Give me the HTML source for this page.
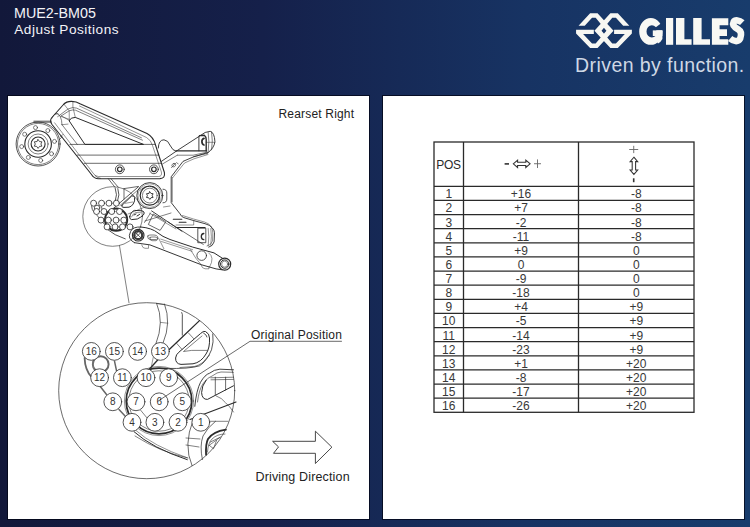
<!DOCTYPE html>
<html><head><meta charset="utf-8">
<style>
html,body{margin:0;padding:0;}
body{width:750px;height:527px;overflow:hidden;position:relative;font-family:"Liberation Sans",sans-serif;
background:linear-gradient(90deg,#12183a 0%,#15204a 35%,#173363 70%,#183c6c 100%);}
.t{position:absolute;white-space:pre;line-height:1;}
.hdr{color:#f4f4f8;font-size:14px;}
.panel{position:absolute;top:96px;width:361px;height:423px;background:#fff;box-shadow:0 0 0 1px rgba(2,4,20,0.75);}
#lp{left:8px;}
#rp{left:383px;}
.dt{font-size:12px;color:#222;}
table{position:absolute;border-collapse:collapse;}
svg{position:absolute;left:0;top:0;}
.tc{position:absolute;height:14.125px;line-height:16px;text-align:center;font-size:12px;color:#383838;}

</style></head><body>
<div class="t hdr" style="left:14px;top:5.5px;font-size:14.3px">MUE2-BM05</div>
<div class="t hdr" style="left:14.3px;top:23.3px;font-size:13.6px;letter-spacing:0.5px">Adjust Positions</div>

<!--LOGO--><svg width="62" height="42" viewBox="0 0 750 508" style="position:absolute;left:574px;top:10px"><polygon points="55,190 195,40 285,40 478,250 285,460 195,460 25,285 25,240 240,240 240,290 110,290 218,405 262,405 392,250 262,95 218,95 130,190" fill="#f7f7f2"/><polygon points="670,190 530,40 440,40 247,250 440,460 530,460 700,285 700,240 485,240 485,290 615,290 507,405 463,405 333,250 463,95 507,95 595,190" fill="#f7f7f2"/></svg><!--/LOGO-->
<!--GIL--><svg width="750" height="60" style="position:absolute;left:0;top:0">
<defs><mask id="gm" maskUnits="userSpaceOnUse" x="630" y="10" width="40" height="40"><rect x="630" y="10" width="40" height="40" fill="#fff"/><polygon points="651.5,30.4 667.5,18.6 667.5,30.4" fill="#000"/></mask></defs>
<g fill="#f8f8f4">
<path mask="url(#gm)" fill-rule="evenodd" d="M639.2,31.4 A11.6,13.4 0 1,0 662.4,31.4 A11.6,13.4 0 1,0 639.2,31.4 Z M646.5,31.4 A5.4,6.2 0 1,0 657.3,31.4 A5.4,6.2 0 1,0 646.5,31.4 Z"/>
<rect x="652.8" y="30.4" width="9.6" height="5.6"/><path d="M656,30.4 H662.4 V39 Q661,42 658,43.5 L656,40 Z"/>
<rect x="666" y="18" width="7.2" height="26.8"/>
<path d="M676,18 H684.4 V39.2 H691.6 V44.8 H676 Z"/>
<path d="M693.2,18 H701.6 V39.2 H710 V44.8 H693.2 Z"/>
<path d="M711.9,18.2 H728.3 V25.3 H719.6 V29.2 H727 V35.9 H719.6 V39.2 H728.3 V44.8 H711.9 Z"/>
</g>
<path d="M742.3,22.6 C739.5,20 735,19.6 733.6,22 C732,25 735,27.6 738.5,29.6 C742,31.6 741.2,35.5 740.2,38.5 C738,42.6 733.2,41.2 730.2,38.6" fill="none" stroke="#f8f8f4" stroke-width="6.6"/>
</svg><!--/GIL-->

<div class="t" style="left:575px;top:56px;font-size:19.5px;color:#cfd8e5;letter-spacing:0.43px">Driven by function.</div>

<div class="panel" id="lp"></div>
<div class="panel" id="rp"></div>
<!--DRAW-->
<svg width="750" height="527" style="position:absolute;left:0;top:0" stroke-linecap="round" stroke-linejoin="round"><circle cx="38.10" cy="144.00" r="22.00" fill="none" stroke="#2b2b2b" stroke-width="0.8"/><circle cx="38.10" cy="144.00" r="20.60" fill="none" stroke="#2b2b2b" stroke-width="0.6"/><circle cx="38.10" cy="144.00" r="13.30" fill="none" stroke="#2b2b2b" stroke-width="1.1"/><circle cx="38.10" cy="144.00" r="10.00" fill="none" stroke="#2b2b2b" stroke-width="0.6"/><circle cx="38.10" cy="144.00" r="7.00" fill="none" stroke="#2b2b2b" stroke-width="1.1"/><polygon points="38.10,139.60 39.50,141.58 41.91,141.80 40.90,144.00 41.91,146.20 39.50,146.42 38.10,148.40 36.70,146.42 34.29,146.20 35.30,144.00 34.29,141.80 36.70,141.58" fill="none" stroke="#2b2b2b" stroke-width="0.8"/><circle cx="35.50" cy="127.60" r="2.00" fill="none" stroke="#2b2b2b" stroke-width="0.6"/><circle cx="47.86" cy="130.57" r="2.00" fill="none" stroke="#2b2b2b" stroke-width="0.6"/><circle cx="54.50" cy="141.40" r="2.00" fill="none" stroke="#2b2b2b" stroke-width="0.6"/><circle cx="51.53" cy="153.76" r="2.00" fill="none" stroke="#2b2b2b" stroke-width="0.6"/><circle cx="40.70" cy="160.40" r="2.00" fill="none" stroke="#2b2b2b" stroke-width="0.6"/><circle cx="28.34" cy="157.43" r="2.00" fill="none" stroke="#2b2b2b" stroke-width="0.6"/><circle cx="21.70" cy="146.60" r="2.00" fill="none" stroke="#2b2b2b" stroke-width="0.6"/><circle cx="24.67" cy="134.24" r="2.00" fill="none" stroke="#2b2b2b" stroke-width="0.6"/><path d="M33.9,121.9 L51,121.9" fill="none" stroke="#2b2b2b" stroke-width="0.6" /><path d="M59.5,139.5 L62,137" fill="none" stroke="#2b2b2b" stroke-width="0.6" /><path d="M71.5,101.4 Q66.5,101.3 63.5,104.5 L51.5,118 Q49.5,121 52,124.5 L91.5,174.5 Q94,178.6 98.5,178.7 L160,178.6 Q165.4,178.4 164.4,172.5 L155.5,145 Q153.5,137 147,133.5 L80,103.8 Q76.5,101.5 71.5,101.4 Z" fill="none" stroke="#2b2b2b" stroke-width="1.1" /><path d="M54.6,122.8 L93,173 Q95,176.5 98.5,176.5 L158.5,176.5 Q162.2,176.5 161.4,172 L152.5,145.5 Q151,140 146.5,137.5 L79.5,106" fill="none" stroke="#2b2b2b" stroke-width="0.5" /><path d="M57.7,116.6 L68,109 Q72.9,106.6 76.5,108.1 L141.5,137.8" fill="none" stroke="#2b2b2b" stroke-width="0.6" /><path d="M61.4,115.8 L69.2,110.8 Q73,109.5 75.3,110.1 L142.5,140.2" fill="none" stroke="#2b2b2b" stroke-width="0.6" /><path d="M69.3,120.5 Q70.5,117.2 75.3,117.4 L143.5,144.4 L85.3,144.4 Z" fill="none" stroke="#2b2b2b" stroke-width="1.0" /><path d="M64.4,104.7 L69.2,110.8 L69.3,120.5" fill="none" stroke="#2b2b2b" stroke-width="0.5" /><path d="M72.9,101.5 L72.9,107.1 L75.3,117.4" fill="none" stroke="#2b2b2b" stroke-width="0.5" /><path d="M62,124.7 L68,124.1" fill="none" stroke="#2b2b2b" stroke-width="0.5" /><path d="M62,124.7 L77.3,144.4" fill="none" stroke="#2b2b2b" stroke-width="0.6" /><path d="M61.4,115.8 L69.3,120.5" fill="none" stroke="#2b2b2b" stroke-width="0.5" /><path d="M70,144.4 L155.5,144.4" fill="none" stroke="#2b2b2b" stroke-width="0.7" /><path d="M77.3,155.1 L158.8,155.1" fill="none" stroke="#2b2b2b" stroke-width="0.7" /><path d="M84.2,163.3 L161.3,163.3" fill="none" stroke="#2b2b2b" stroke-width="0.7" /><circle cx="119.80" cy="169.30" r="4.40" fill="none" stroke="#2b2b2b" stroke-width="0.8"/><circle cx="119.80" cy="169.30" r="2.30" fill="none" stroke="#2b2b2b" stroke-width="1.2"/><circle cx="153.90" cy="169.30" r="4.40" fill="none" stroke="#2b2b2b" stroke-width="0.8"/><circle cx="153.90" cy="169.30" r="2.30" fill="none" stroke="#2b2b2b" stroke-width="1.2"/><path d="M60.3,137 L62.8,134.5" fill="none" stroke="#2b2b2b" stroke-width="0.6" /><path d="M33.9,122.2 L51.5,122.2 M33.9,121 L51,121" fill="none" stroke="#2b2b2b" stroke-width="0.5" /><path d="M55.3,113.8 Q58.5,113 60.1,116.2 Q62,120 62,124.7" fill="none" stroke="#2b2b2b" stroke-width="0.6" /><path d="M51.8,118.5 Q54,112.5 58,113.5" fill="none" stroke="#2b2b2b" stroke-width="0.5" /><path d="M60.1,116.2 L69.3,119.3" fill="none" stroke="#2b2b2b" stroke-width="0.5" /><path d="M158.3,148 Q158.6,139.8 164,139.8 Q168,140 170.5,146 Q172.5,150.5 176.2,151.2 L200.3,135.6 Q205,131.5 210.2,131.3 Q214.5,132.5 214.9,141.6 Q214.5,148 206.9,153.6" fill="none" stroke="#2b2b2b" stroke-width="0.9" /><path d="M176.2,150.9 L206.5,150.9" fill="none" stroke="#2b2b2b" stroke-width="1.3" /><path d="M177.3,155.2 L193.2,155.2 L206.9,152.2" fill="none" stroke="#2b2b2b" stroke-width="0.6" /><path d="M193.6,156.6 L206.9,153.6" fill="none" stroke="#2b2b2b" stroke-width="0.6" /><path d="M198.9,136.5 L198.9,150.9" fill="none" stroke="#2b2b2b" stroke-width="0.9" /><path d="M199.5,135.6 L204.3,135.3 Q206.2,136.8 206.2,139.5 L206.2,151" fill="none" stroke="#2b2b2b" stroke-width="1.4" /><path d="M204,138.4 Q201.9,139 201.9,141.6 Q201.9,144.4 204,145" fill="none" stroke="#2b2b2b" stroke-width="1.7" /><path d="M208.2,132.5 Q209.6,141 208.2,151.5 M211.6,132 Q213,141 211.6,149.8" fill="none" stroke="#2b2b2b" stroke-width="0.6" /><path d="M206.2,142.3 L214.9,142.3" fill="none" stroke="#2b2b2b" stroke-width="0.5" /><path d="M161.4,161.4 L176.2,151.2" fill="none" stroke="#2b2b2b" stroke-width="0.9" /><path d="M162.5,164 L177.3,155.2" fill="none" stroke="#2b2b2b" stroke-width="0.6" /><path d="M208,152.5 L193.2,157 L183,161.4 L171.2,176.8 L171.2,202.6 L180,213.8 Q181.5,217 183.8,217.6 L193.7,220.6 L205,223.7 Q210,225 211.9,227.5 Q214.5,230 214.5,232.8 L214.1,241.9 Q213,246 208.8,247.2" fill="none" stroke="#2b2b2b" stroke-width="0.9" /><path d="M182.5,215.5 L193.5,219 L204.5,222 Q209,223.5 210.8,226 Q212.8,229 212.8,233 L212.5,241 Q211.5,245 207,246" fill="none" stroke="#2b2b2b" stroke-width="0.5" /><path d="M176,227.5 L205,227.5" fill="none" stroke="#2b2b2b" stroke-width="1.1" /><path d="M176,225 L193.7,225 L193.7,220.6" fill="none" stroke="#2b2b2b" stroke-width="0.5" /><path d="M173.3,219.2 L181.8,219.2 M179.2,222.2 L186,222.2" fill="none" stroke="#2b2b2b" stroke-width="1.1" /><rect x="198.2" y="228.2" width="7.6" height="14.5" fill="none" stroke="#2b2b2b" stroke-width="0.8"/><path d="M203.8,233.5 Q201.3,233.8 201.3,236.6 Q201.3,239.5 203.8,239.7" fill="none" stroke="#2b2b2b" stroke-width="1.3" /><path d="M208.2,228.5 Q209.5,236 208.2,246 M210.8,228.5 Q212,236 210.8,245" fill="none" stroke="#2b2b2b" stroke-width="0.5" /><path d="M172.3,177.5 L172.3,202" fill="none" stroke="#2b2b2b" stroke-width="0.5" /><path d="M208,154.5 L194,158.8 L184.5,163 L172.6,177.8" fill="none" stroke="#2b2b2b" stroke-width="0.5" /><path d="M173.8,163.5 Q171.6,164 171.8,165.8 Q172.2,167.4 174.2,166.8 Q176,166 175.6,164.3 Q175.2,163 173.8,163.5 Z M171.4,167.6 L176.4,162.6 M177.2,163.2 L178.2,163.8" fill="none" stroke="#2b2b2b" stroke-width="0.6" /><path d="M108.3,178.7 L115,187.3 M111,178.7 L118.3,187.3" fill="none" stroke="#2b2b2b" stroke-width="0.7" /><path d="M95,175.5 Q97,178 100.5,178.4" fill="none" stroke="#2b2b2b" stroke-width="0.6" /><path d="M163,189.2 Q166.8,189.2 166.8,193 L166.8,199 Q166.8,202.8 163,202.8" fill="none" stroke="#2b2b2b" stroke-width="0.8" /><circle cx="149.80" cy="195.60" r="13.00" fill="none" stroke="#2b2b2b" stroke-width="0.9"/><circle cx="149.80" cy="195.60" r="11.80" fill="none" stroke="#2b2b2b" stroke-width="0.4"/><circle cx="149.80" cy="195.60" r="9.60" fill="none" stroke="#2b2b2b" stroke-width="1.2"/><circle cx="149.80" cy="195.60" r="7.40" fill="none" stroke="#2b2b2b" stroke-width="0.6"/><polygon points="149.80,191.80 151.00,193.52 153.09,193.70 152.20,195.60 153.09,197.50 151.00,197.68 149.80,199.40 148.60,197.68 146.51,197.50 147.40,195.60 146.51,193.70 148.60,193.52" fill="none" stroke="#2b2b2b" stroke-width="0.9"/><path d="M140.45,190.20 A10.8,10.8 0 0,1 158.07,202.54" fill="none" stroke="#2b2b2b" stroke-width="1.0" stroke-dasharray="0.8 1.4"/><path d="M122,205.3 L131.5,196.2 Q133.5,194.8 134.6,197.5 Q135.2,201 133.2,204 Q131.5,206.6 129,207.2 L124,207.4 Q121,207.2 122,205.3 Z" fill="none" stroke="#2b2b2b" stroke-width="1.0" /><path d="M125.3,203.3 L132.6,202" fill="none" stroke="#2b2b2b" stroke-width="0.5" /><path d="M124,188.6 L138,186.5 M124,188.6 L124,199" fill="none" stroke="#2b2b2b" stroke-width="0.7" /><path d="M138.6,186.6 L114,207.9" fill="none" stroke="#2b2b2b" stroke-width="0.8" /><path d="M140,188.2 L120,205.5" fill="none" stroke="#2b2b2b" stroke-width="0.6" /><path d="M129.7,216.6 Q131,211.5 134.5,210.4 L142,210.8 Q145,211.5 144,214.2 Q141,217.5 137.3,219 L131.5,219.6 Q129.2,219 129.7,216.6 Z" fill="none" stroke="#2b2b2b" stroke-width="1.0" /><path d="M131.5,217 Q133,213 136,212.5 L141,212.8" fill="none" stroke="#2b2b2b" stroke-width="0.5" /><path d="M134,215 L136,214 M137,216 L139.5,214.5" fill="none" stroke="#2b2b2b" stroke-width="1.0" /><path d="M153.5,214.2 L165.8,221.8 L160.1,230.4 L148.7,224.7 Z" fill="none" stroke="#2b2b2b" stroke-width="0.7" /><path d="M151.6,210.9 L182,231.3" fill="none" stroke="#2b2b2b" stroke-width="0.9" /><path d="M149.7,213.3 L176,229" fill="none" stroke="#2b2b2b" stroke-width="0.5" /><path d="M150.5,213 L144.5,222.5" fill="none" stroke="#2b2b2b" stroke-width="0.6" /><path d="M140.9,227 Q133,226.5 130.7,231.3 Q128.5,236 129.7,238 Q131.5,241.5 134.5,242.7" fill="none" stroke="#2b2b2b" stroke-width="0.9" /><path d="M128,214 L145,207" fill="none" stroke="#2b2b2b" stroke-width="0.5" /><path d="M147.8,236 Q147,239 150,239.5 L156.3,239.5 Q158.5,238.8 157.5,236.5 Q156.5,235 154,235 L150,235 Q148,235 147.8,236 Z" fill="none" stroke="#2b2b2b" stroke-width="0.6" /><path d="M163.5,207 L170,206" fill="none" stroke="#2b2b2b" stroke-width="0.5" /><path d="M134.5,242.7 L150,244.9 L201.2,264.7 L216.1,268.9 L222,269.8" fill="none" stroke="#2b2b2b" stroke-width="0.95" /><path d="M140.9,227 Q152,228 158,233 Q162,236.5 170,239.5 L192.7,247.1 L214,252.9 L222.5,258.3" fill="none" stroke="#2b2b2b" stroke-width="1.0" /><path d="M168.1,222 L203.3,244.4" fill="none" stroke="#2b2b2b" stroke-width="0.7" /><path d="M160.7,239.1 L192.7,249.7 M161.5,241.5 L192,251.3" fill="none" stroke="#555" stroke-width="0.6" /><path d="M158.5,238 L163.9,248.7 M190.5,249.7 L195.9,258.3 L201,264.5" fill="none" stroke="#2b2b2b" stroke-width="0.5" /><path d="M208.7,252.9 Q215,257.2 209.7,266.8" fill="none" stroke="#2b2b2b" stroke-width="0.5" /><path d="M150,237.5 Q149.2,240.5 152,240.7 L156,240.7 Q158,240 157.5,238.5 Q157,237 155,237 L152,237 Q150.3,237 150,237.5 Z" fill="none" stroke="#2b2b2b" stroke-width="0.6" /><path d="M141.7,245 Q142.5,248.3 145,248.3 L148.5,248.3 L148.5,245.5" fill="none" stroke="#2b2b2b" stroke-width="0.5" /><path d="M201,265 Q202,268.5 205,268.8 L209,268.8 L209,266.5" fill="none" stroke="#2b2b2b" stroke-width="0.5" /><path d="M145,221 L171,213" fill="none" stroke="#2b2b2b" stroke-width="0.6" /><circle cx="138.20" cy="235.20" r="5.80" fill="none" stroke="#2b2b2b" stroke-width="1.1"/><circle cx="138.20" cy="235.20" r="4.00" fill="none" stroke="#3a3a3a" stroke-width="2.2"/><path d="M136,233 L140.5,237.5 M136,237.2 L140.5,233" fill="none" stroke="#2b2b2b" stroke-width="0.7" /><circle cx="201.70" cy="255.60" r="4.80" fill="none" stroke="#2b2b2b" stroke-width="0.8"/><circle cx="224.70" cy="264.10" r="6.00" fill="none" stroke="#2b2b2b" stroke-width="1.2"/><circle cx="224.70" cy="264.10" r="4.20" fill="none" stroke="#2b2b2b" stroke-width="1.0"/><circle cx="224.70" cy="264.10" r="3.00" fill="none" stroke="#2b2b2b" stroke-width="0.5"/><circle cx="112.60" cy="216.50" r="29.80" fill="none" stroke="#2b2b2b" stroke-width="0.6"/><circle cx="116.10" cy="219.70" r="11.10" fill="none" stroke="#2b2b2b" stroke-width="2.0"/><path d="M91.6,205.9 Q91.7,209.8 93.8,212.0" fill="none" stroke="#555" stroke-width="1.0" /><path d="M101.5,206.9 L102.2,209.9 M96.6,214.8 L98.9,217.7 M103.0,222.6 L105.1,224.9 M110.1,222.9 L112.2,225.5" fill="none" stroke="#555" stroke-width="0.9" /><path d="M107.9,229.8 Q113.8,235.1 125.3,238.9" fill="none" stroke="#2b2b2b" stroke-width="0.8" /><path d="M115.3,188.4 Q117.9,194.5 115.1,201.6" fill="none" stroke="#2b2b2b" stroke-width="0.8" /><path d="M117.9,188.6 Q120.2,194.8 117.5,201.2" fill="none" stroke="#2b2b2b" stroke-width="0.8" /><circle cx="97.05" cy="207.85" r="2.70" fill="none" stroke="#555" stroke-width="1.0"/><circle cx="93.60" cy="203.20" r="3.00" fill="#fff" stroke="#2b2b2b" stroke-width="0.8"/><circle cx="101.60" cy="203.20" r="3.00" fill="#fff" stroke="#2b2b2b" stroke-width="0.8"/><circle cx="109.00" cy="203.20" r="3.00" fill="#fff" stroke="#2b2b2b" stroke-width="0.8"/><circle cx="116.40" cy="203.20" r="3.00" fill="#fff" stroke="#2b2b2b" stroke-width="0.8"/><circle cx="96.60" cy="211.50" r="3.00" fill="#fff" stroke="#2b2b2b" stroke-width="0.8"/><circle cx="104.00" cy="211.50" r="3.00" fill="#fff" stroke="#2b2b2b" stroke-width="0.8"/><circle cx="111.80" cy="211.50" r="3.00" fill="#fff" stroke="#2b2b2b" stroke-width="0.8"/><circle cx="119.50" cy="211.50" r="3.00" fill="#fff" stroke="#2b2b2b" stroke-width="0.8"/><circle cx="101.00" cy="220.10" r="3.00" fill="#fff" stroke="#2b2b2b" stroke-width="0.8"/><circle cx="108.40" cy="220.10" r="3.00" fill="#fff" stroke="#2b2b2b" stroke-width="0.8"/><circle cx="116.10" cy="220.10" r="3.00" fill="#fff" stroke="#2b2b2b" stroke-width="0.8"/><circle cx="123.80" cy="220.10" r="3.00" fill="#fff" stroke="#2b2b2b" stroke-width="0.8"/><circle cx="107.10" cy="226.90" r="3.00" fill="#fff" stroke="#2b2b2b" stroke-width="0.8"/><circle cx="115.10" cy="226.90" r="3.00" fill="#fff" stroke="#2b2b2b" stroke-width="0.8"/><circle cx="122.50" cy="226.90" r="3.00" fill="#fff" stroke="#2b2b2b" stroke-width="0.8"/><circle cx="130.00" cy="226.90" r="3.00" fill="#fff" stroke="#2b2b2b" stroke-width="0.8"/><path d="M119.5,245.7 L129,302.8" fill="none" stroke="#2b2b2b" stroke-width="0.6" /><circle cx="146.70" cy="390.70" r="88.00" fill="none" stroke="#2b2b2b" stroke-width="0.7"/><circle cx="159.00" cy="401.00" r="32.80" fill="none" stroke="#2b2b2b" stroke-width="1.7"/><circle cx="159.00" cy="401.00" r="30.20" fill="none" stroke="#2b2b2b" stroke-width="0.6"/><circle cx="159.00" cy="401.00" r="34.60" fill="none" stroke="#2b2b2b" stroke-width="0.5"/><circle cx="100.70" cy="364.20" r="7.90" fill="none" stroke="#666" stroke-width="1.9"/><path d="M84.6,358 Q85,370 91.5,377" fill="none" stroke="#666" stroke-width="1.8" /><path d="M93,361 Q92.5,368 95,371" fill="none" stroke="#777" stroke-width="1.0" /><path d="M99.5,385.5 L106.5,394.5 M119,409.5 L125.5,416.5" fill="none" stroke="#666" stroke-width="1.5" /><path d="M135,436 Q160,452 188,458" fill="none" stroke="#2b2b2b" stroke-width="0.6" /><path d="M114.5,361.2 L116.5,370.6" fill="none" stroke="#666" stroke-width="1.5" /><path d="M156.6,303.3 Q164.5,322 155.9,343.8" fill="none" stroke="#2b2b2b" stroke-width="0.7" /><path d="M164.5,304 Q171.5,323 163.2,342.5" fill="none" stroke="#2b2b2b" stroke-width="0.7" /><path d="M160.5,322.4 L167.8,323.2 M157.2,303.6 L163.9,304.6" fill="none" stroke="#2b2b2b" stroke-width="0.5" /><path d="M153.2,357.5 L151.5,366" fill="none" stroke="#2b2b2b" stroke-width="0.5" /><path d="M181.8,312.5 Q182.8,314 182.3,318 L182.3,335.2" fill="none" stroke="#2b2b2b" stroke-width="0.8" /><path d="M199.5,320.6 L169,349.8 M157.9,359.8 L148.6,370" fill="none" stroke="#2b2b2b" stroke-width="1.3" /><path d="M188.5,333 L193.6,338.6 M176.8,343.5 L182,349.4" fill="none" stroke="#2b2b2b" stroke-width="0.6" /><path d="M200.9,333.2 Q203.5,330.6 205.5,331.5 Q209.5,333.5 209.5,338 Q210,348 206,354 Q201,362.5 193,363.8 L181,364.4 Q175.4,363.8 175.6,358 Q176,354.5 178.5,352.5 Z" fill="none" stroke="#2b2b2b" stroke-width="1.0" /><path d="M202,336 L183.5,351.5 L191.6,350.4 L207.5,350.4" fill="none" stroke="#2b2b2b" stroke-width="0.6" /><path d="M203.5,333 Q207,335 207,337" fill="none" stroke="#2b2b2b" stroke-width="0.8" /><path d="M212.8,333.9 Q214,342 211.5,349.8 Q207,361 199.5,365.8 Q190,369 165,368.4" fill="none" stroke="#2b2b2b" stroke-width="0.8" /><path d="M180,367.5 L194.8,366.4 Q203,364 206.2,358.4 L209.6,355" fill="none" stroke="#2b2b2b" stroke-width="0.6" /><path d="M194.8,406.3 Q196.5,390 200.5,382.3 Q205,374.5 209.6,373.2 Q214,369.5 219.9,369.2 L233.5,369.8" fill="none" stroke="#2b2b2b" stroke-width="0.9" /><path d="M197.5,402 Q199,389 203.5,383 Q208,377 213,375.5 Q217,372.2 221,372 L233.5,372.3" fill="none" stroke="#2b2b2b" stroke-width="0.6" /><path d="M206.2,380 Q201.6,386 201.6,392.6 Q202,399.6 207.5,399.4 L233.5,385.8" fill="none" stroke="#2b2b2b" stroke-width="1.0" /><path d="M210.8,377.8 L233.5,377.2 M211,379.8 L233.5,379.4" fill="none" stroke="#2b2b2b" stroke-width="0.6" /><path d="M215.3,377.2 L215.3,394.9 M225.6,377.2 L225.6,390" fill="none" stroke="#2b2b2b" stroke-width="0.7" /><path d="M190,419.5 L236,402" fill="none" stroke="#2b2b2b" stroke-width="1.2" /><path d="M216.4,396 Q222,398 225.6,402.8 Q229.5,406 233.5,412" fill="none" stroke="#2b2b2b" stroke-width="0.6" /><path d="M193.2,420 Q183,445 192,465.6" fill="none" stroke="#2b2b2b" stroke-width="0.7" /><path d="M186,438 L200,439 M186,445 L199,447" fill="none" stroke="#2b2b2b" stroke-width="0.6" /><path d="M206.1,454.7 Q205.5,444 208,439 Q213,431.5 225.9,429.6" fill="none" stroke="#2b2b2b" stroke-width="1.8" /><path d="M207.5,452 Q208,443 212,439 Q217,434 225,434" fill="none" stroke="#2b2b2b" stroke-width="0.6" /><path d="M209.2,445.3 L220.7,436.9 M210.3,442.1 L219.5,437.5 M209.2,445.3 L213.5,448.7 L216.5,440.5" fill="none" stroke="#2b2b2b" stroke-width="0.6" /><path d="M209.2,421.3 L228,421.3" fill="none" stroke="#2b2b2b" stroke-width="0.6" /><path d="M215.5,421.3 Q207,428 203,436 Q199.5,446 202.4,459.5" fill="none" stroke="#2b2b2b" stroke-width="0.7" /><path d="M134,431.7 Q152,448 187.3,459.7" fill="none" stroke="#2b2b2b" stroke-width="1.0" /><path d="M136,430.5 Q153,446 187.3,457.8" fill="none" stroke="#2b2b2b" stroke-width="0.5" /><path d="M140.7,410.3 L147.3,418.3" fill="none" stroke="#2b2b2b" stroke-width="0.6" /><circle cx="91.30" cy="351.40" r="8.90" fill="#fff" stroke="#2b2b2b" stroke-width="0.8"/><text x="91.30" y="355.00" font-size="10" text-anchor="middle" fill="#333" font-family="Liberation Sans">16</text><circle cx="114.40" cy="351.40" r="8.90" fill="#fff" stroke="#2b2b2b" stroke-width="0.8"/><text x="114.40" y="355.00" font-size="10" text-anchor="middle" fill="#333" font-family="Liberation Sans">15</text><circle cx="137.60" cy="351.40" r="8.90" fill="#fff" stroke="#2b2b2b" stroke-width="0.8"/><text x="137.60" y="355.00" font-size="10" text-anchor="middle" fill="#333" font-family="Liberation Sans">14</text><circle cx="160.40" cy="351.40" r="8.90" fill="#fff" stroke="#2b2b2b" stroke-width="0.8"/><text x="160.40" y="355.00" font-size="10" text-anchor="middle" fill="#333" font-family="Liberation Sans">13</text><circle cx="99.60" cy="377.70" r="8.90" fill="#fff" stroke="#2b2b2b" stroke-width="0.8"/><text x="99.60" y="381.30" font-size="10" text-anchor="middle" fill="#333" font-family="Liberation Sans">12</text><circle cx="122.40" cy="377.70" r="8.90" fill="#fff" stroke="#2b2b2b" stroke-width="0.8"/><text x="122.40" y="381.30" font-size="10" text-anchor="middle" fill="#333" font-family="Liberation Sans">11</text><circle cx="146.00" cy="377.70" r="8.90" fill="#fff" stroke="#2b2b2b" stroke-width="0.8"/><text x="146.00" y="381.30" font-size="10" text-anchor="middle" fill="#333" font-family="Liberation Sans">10</text><circle cx="168.70" cy="377.70" r="8.90" fill="#fff" stroke="#2b2b2b" stroke-width="0.8"/><text x="168.70" y="381.30" font-size="10" text-anchor="middle" fill="#333" font-family="Liberation Sans">9</text><circle cx="112.80" cy="401.80" r="8.90" fill="#fff" stroke="#2b2b2b" stroke-width="0.8"/><text x="112.80" y="405.40" font-size="10" text-anchor="middle" fill="#333" font-family="Liberation Sans">8</text><circle cx="136.00" cy="401.80" r="8.90" fill="#fff" stroke="#2b2b2b" stroke-width="0.8"/><text x="136.00" y="405.40" font-size="10" text-anchor="middle" fill="#333" font-family="Liberation Sans">7</text><circle cx="159.20" cy="401.80" r="8.90" fill="#fff" stroke="#2b2b2b" stroke-width="0.8"/><text x="159.20" y="405.40" font-size="10" text-anchor="middle" fill="#333" font-family="Liberation Sans">6</text><circle cx="182.40" cy="401.80" r="8.90" fill="#fff" stroke="#2b2b2b" stroke-width="0.8"/><text x="182.40" y="405.40" font-size="10" text-anchor="middle" fill="#333" font-family="Liberation Sans">5</text><circle cx="132.00" cy="422.30" r="8.90" fill="#fff" stroke="#2b2b2b" stroke-width="0.8"/><text x="132.00" y="425.90" font-size="10" text-anchor="middle" fill="#333" font-family="Liberation Sans">4</text><circle cx="154.90" cy="422.30" r="8.90" fill="#fff" stroke="#2b2b2b" stroke-width="0.8"/><text x="154.90" y="425.90" font-size="10" text-anchor="middle" fill="#333" font-family="Liberation Sans">3</text><circle cx="178.00" cy="422.30" r="8.90" fill="#fff" stroke="#2b2b2b" stroke-width="0.8"/><text x="178.00" y="425.90" font-size="10" text-anchor="middle" fill="#333" font-family="Liberation Sans">2</text><circle cx="200.80" cy="422.30" r="8.90" fill="#fff" stroke="#2b2b2b" stroke-width="0.8"/><text x="200.80" y="425.90" font-size="10" text-anchor="middle" fill="#333" font-family="Liberation Sans">1</text><path d="M160.5,399.5 L250,341.3 L341.5,341.3" fill="none" stroke="#444" stroke-width="0.8" /><circle cx="160.50" cy="399.50" r="0.80" fill="#2b2b2b" stroke="#2b2b2b" stroke-width="0"/><path d="M273,441.3 L315.4,441.3 L315.4,431.2 L331.9,447.2 L315.4,463.5 L315.4,453.3 L273.5,453.3 L278.3,447.2 Z" fill="none" stroke="#333" stroke-width="0.9" /></svg>
<div class="t dt" style="left:278.5px;top:108px;letter-spacing:0.18px">Rearset Right</div>
<div class="t dt" style="left:251px;top:329px;letter-spacing:0.22px">Original Position</div>
<div class="t dt" style="left:255.5px;top:471px;font-size:12.5px;letter-spacing:0.15px">Driving Direction</div>
<!--/DRAW-->
<!--TABLE-->
<svg width="750" height="527" style="position:absolute;left:0;top:0"><rect x="434" y="142" width="260" height="270.3" fill="none" stroke="#2a2a2a" stroke-width="1.3"/><line x1="463.5" y1="142" x2="463.5" y2="412.3" stroke="#2a2a2a" stroke-width="1.3"/><line x1="578.5" y1="142" x2="578.5" y2="412.3" stroke="#2a2a2a" stroke-width="1.3"/><line x1="434" y1="186.30" x2="694" y2="186.30" stroke="#2a2a2a" stroke-width="1.3"/><line x1="434" y1="200.43" x2="694" y2="200.43" stroke="#2a2a2a" stroke-width="1.3"/><line x1="434" y1="214.55" x2="694" y2="214.55" stroke="#2a2a2a" stroke-width="1.3"/><line x1="434" y1="228.68" x2="694" y2="228.68" stroke="#2a2a2a" stroke-width="1.3"/><line x1="434" y1="242.80" x2="694" y2="242.80" stroke="#2a2a2a" stroke-width="1.3"/><line x1="434" y1="256.93" x2="694" y2="256.93" stroke="#2a2a2a" stroke-width="1.3"/><line x1="434" y1="271.05" x2="694" y2="271.05" stroke="#2a2a2a" stroke-width="1.3"/><line x1="434" y1="285.18" x2="694" y2="285.18" stroke="#2a2a2a" stroke-width="1.3"/><line x1="434" y1="299.30" x2="694" y2="299.30" stroke="#2a2a2a" stroke-width="1.3"/><line x1="434" y1="313.43" x2="694" y2="313.43" stroke="#2a2a2a" stroke-width="1.3"/><line x1="434" y1="327.55" x2="694" y2="327.55" stroke="#2a2a2a" stroke-width="1.3"/><line x1="434" y1="341.68" x2="694" y2="341.68" stroke="#2a2a2a" stroke-width="1.3"/><line x1="434" y1="355.80" x2="694" y2="355.80" stroke="#2a2a2a" stroke-width="1.3"/><line x1="434" y1="369.93" x2="694" y2="369.93" stroke="#2a2a2a" stroke-width="1.3"/><line x1="434" y1="384.05" x2="694" y2="384.05" stroke="#2a2a2a" stroke-width="1.3"/><line x1="434" y1="398.18" x2="694" y2="398.18" stroke="#2a2a2a" stroke-width="1.3"/></svg>
<div class="tc" style="left:434.0px;top:186.30px;width:29.5px">1</div>
<div class="tc" style="left:463.5px;top:186.30px;width:115.0px">+16</div>
<div class="tc" style="left:578.5px;top:186.30px;width:115.5px">-8</div>
<div class="tc" style="left:434.0px;top:200.43px;width:29.5px">2</div>
<div class="tc" style="left:463.5px;top:200.43px;width:115.0px">+7</div>
<div class="tc" style="left:578.5px;top:200.43px;width:115.5px">-8</div>
<div class="tc" style="left:434.0px;top:214.55px;width:29.5px">3</div>
<div class="tc" style="left:463.5px;top:214.55px;width:115.0px">-2</div>
<div class="tc" style="left:578.5px;top:214.55px;width:115.5px">-8</div>
<div class="tc" style="left:434.0px;top:228.68px;width:29.5px">4</div>
<div class="tc" style="left:463.5px;top:228.68px;width:115.0px">-11</div>
<div class="tc" style="left:578.5px;top:228.68px;width:115.5px">-8</div>
<div class="tc" style="left:434.0px;top:242.80px;width:29.5px">5</div>
<div class="tc" style="left:463.5px;top:242.80px;width:115.0px">+9</div>
<div class="tc" style="left:578.5px;top:242.80px;width:115.5px">0</div>
<div class="tc" style="left:434.0px;top:256.93px;width:29.5px">6</div>
<div class="tc" style="left:463.5px;top:256.93px;width:115.0px">0</div>
<div class="tc" style="left:578.5px;top:256.93px;width:115.5px">0</div>
<div class="tc" style="left:434.0px;top:271.05px;width:29.5px">7</div>
<div class="tc" style="left:463.5px;top:271.05px;width:115.0px">-9</div>
<div class="tc" style="left:578.5px;top:271.05px;width:115.5px">0</div>
<div class="tc" style="left:434.0px;top:285.18px;width:29.5px">8</div>
<div class="tc" style="left:463.5px;top:285.18px;width:115.0px">-18</div>
<div class="tc" style="left:578.5px;top:285.18px;width:115.5px">0</div>
<div class="tc" style="left:434.0px;top:299.30px;width:29.5px">9</div>
<div class="tc" style="left:463.5px;top:299.30px;width:115.0px">+4</div>
<div class="tc" style="left:578.5px;top:299.30px;width:115.5px">+9</div>
<div class="tc" style="left:434.0px;top:313.43px;width:29.5px">10</div>
<div class="tc" style="left:463.5px;top:313.43px;width:115.0px">-5</div>
<div class="tc" style="left:578.5px;top:313.43px;width:115.5px">+9</div>
<div class="tc" style="left:434.0px;top:327.55px;width:29.5px">11</div>
<div class="tc" style="left:463.5px;top:327.55px;width:115.0px">-14</div>
<div class="tc" style="left:578.5px;top:327.55px;width:115.5px">+9</div>
<div class="tc" style="left:434.0px;top:341.68px;width:29.5px">12</div>
<div class="tc" style="left:463.5px;top:341.68px;width:115.0px">-23</div>
<div class="tc" style="left:578.5px;top:341.68px;width:115.5px">+9</div>
<div class="tc" style="left:434.0px;top:355.80px;width:29.5px">13</div>
<div class="tc" style="left:463.5px;top:355.80px;width:115.0px">+1</div>
<div class="tc" style="left:578.5px;top:355.80px;width:115.5px">+20</div>
<div class="tc" style="left:434.0px;top:369.93px;width:29.5px">14</div>
<div class="tc" style="left:463.5px;top:369.93px;width:115.0px">-8</div>
<div class="tc" style="left:578.5px;top:369.93px;width:115.5px">+20</div>
<div class="tc" style="left:434.0px;top:384.05px;width:29.5px">15</div>
<div class="tc" style="left:463.5px;top:384.05px;width:115.0px">-17</div>
<div class="tc" style="left:578.5px;top:384.05px;width:115.5px">+20</div>
<div class="tc" style="left:434.0px;top:398.18px;width:29.5px">16</div>
<div class="tc" style="left:463.5px;top:398.18px;width:115.0px">-26</div>
<div class="tc" style="left:578.5px;top:398.18px;width:115.5px">+20</div>
<!--/TABLE-->
<svg width="750" height="527" style="position:absolute;left:0;top:0">
<g fill="none" stroke="#333" stroke-width="1.05" stroke-linejoin="miter">
<path d="M513.3,163.8 L517.6,160.1 L517.6,162.2 L525.8,162.2 L525.8,160.1 L530.1,163.8 L525.8,167.5 L525.8,165.4 L517.6,165.4 L517.6,167.5 Z"/>
<path d="M633.9,157.2 L637.7,161.6 L635.6,161.6 L635.6,170.0 L637.7,170.0 L633.9,174.4 L630.1,170.0 L632.2,170.0 L632.2,161.6 L630.1,161.6 Z"/>
</g>
<g fill="#333">
<rect x="504.6" y="163.1" width="4.4" height="1.6"/>
<rect x="537.1" y="159.4" width="0.9" height="8.6" fill="#666"/><rect x="534" y="163.3" width="7" height="0.9" fill="#666"/>
<rect x="633.3" y="145.8" width="0.9" height="7.3" fill="#666"/><rect x="629.2" y="149.1" width="9" height="0.9" fill="#666"/>
<rect x="632.9" y="178.3" width="1.6" height="3.9"/>
</g></svg>
<div class="t" style="left:436.3px;top:159px;font-size:12px;color:#2a2a2a;letter-spacing:-0.3px">POS</div>

</body></html>
